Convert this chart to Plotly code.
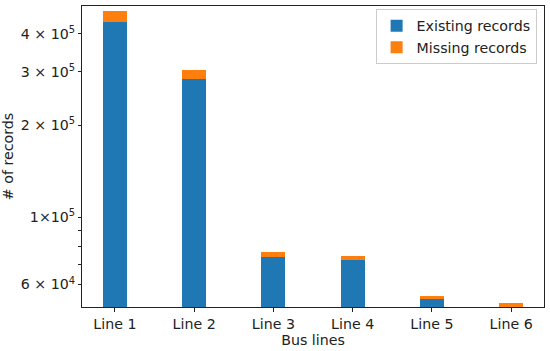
import plotly.graph_objects as go
import math

categories = ["Line 1", "Line 2", "Line 3", "Line 4", "Line 5", "Line 6"]
existing = [437000, 284000, 73700, 72400, 53800, 50000]
missing = [40000, 20000, 2900, 2000, 1300, 2300]
ytick_vals = [6e4, 1e5, 2e5, 3e5, 4e5]
ytick_text = ["6 × 10<sup>4</sup>", "1×10<sup>5</sup>", "2 × 10<sup>5</sup>",
              "3 × 10<sup>5</sup>", "4 × 10<sup>5</sup>"]
yminor_vals = [7e4, 8e4, 9e4]

xpos = list(range(len(categories)))
font = "DejaVu Sans, sans-serif"
fs = 14.2

fig = go.Figure()
fig.add_trace(go.Bar(x=xpos, y=existing, name="Existing records",
                     marker=dict(color="#1f77b4", line=dict(width=0)), width=0.3))
fig.add_trace(go.Bar(x=xpos, y=missing, name="Missing records",
                     marker=dict(color="#ff7f0e", line=dict(width=0)), width=0.3))

fig.update_layout(
    barmode="stack",
    width=550, height=351,
    margin=dict(l=82, r=6, t=6, b=44),
    plot_bgcolor="white", paper_bgcolor="white",
    font=dict(family=font, size=fs, color="#222"),
    showlegend=True,
    legend=dict(x=0.984, y=0.99, xanchor="right", yanchor="top", traceorder="normal",
                bgcolor="rgba(255,255,255,0.8)", bordercolor="#cccccc", borderwidth=1,
                font=dict(size=fs, color="#222"), tracegroupgap=0),
    xaxis=dict(range=[-0.415, 5.415], tickmode="array", tickvals=xpos, ticktext=categories,
               showgrid=False, zeroline=False, showline=True, linecolor="#222", linewidth=1,
               mirror=True, ticks="outside", ticklen=4, tickcolor="#222", automargin=False,
               title=dict(text="Bus lines", standoff=2, font=dict(size=fs))),
    yaxis=dict(type="log", range=[math.log10(5.06e4), math.log10(4.94e5)],
               tickmode="array", tickvals=ytick_vals, ticktext=ytick_text,
               showgrid=False, zeroline=False, showline=True, linecolor="#222", linewidth=1,
               mirror=True, ticks="outside", ticklen=3, tickcolor="#222", automargin=False,
               minor=dict(tickmode="array", tickvals=yminor_vals, ticks="outside",
                          ticklen=3, tickcolor="#222", showgrid=False),
               title=dict(text="# of records", standoff=8, font=dict(size=fs))),
)

fig.write_html("out.html", config={"displayModeBar": False},
               post_script="document.body.style.margin='0';")
